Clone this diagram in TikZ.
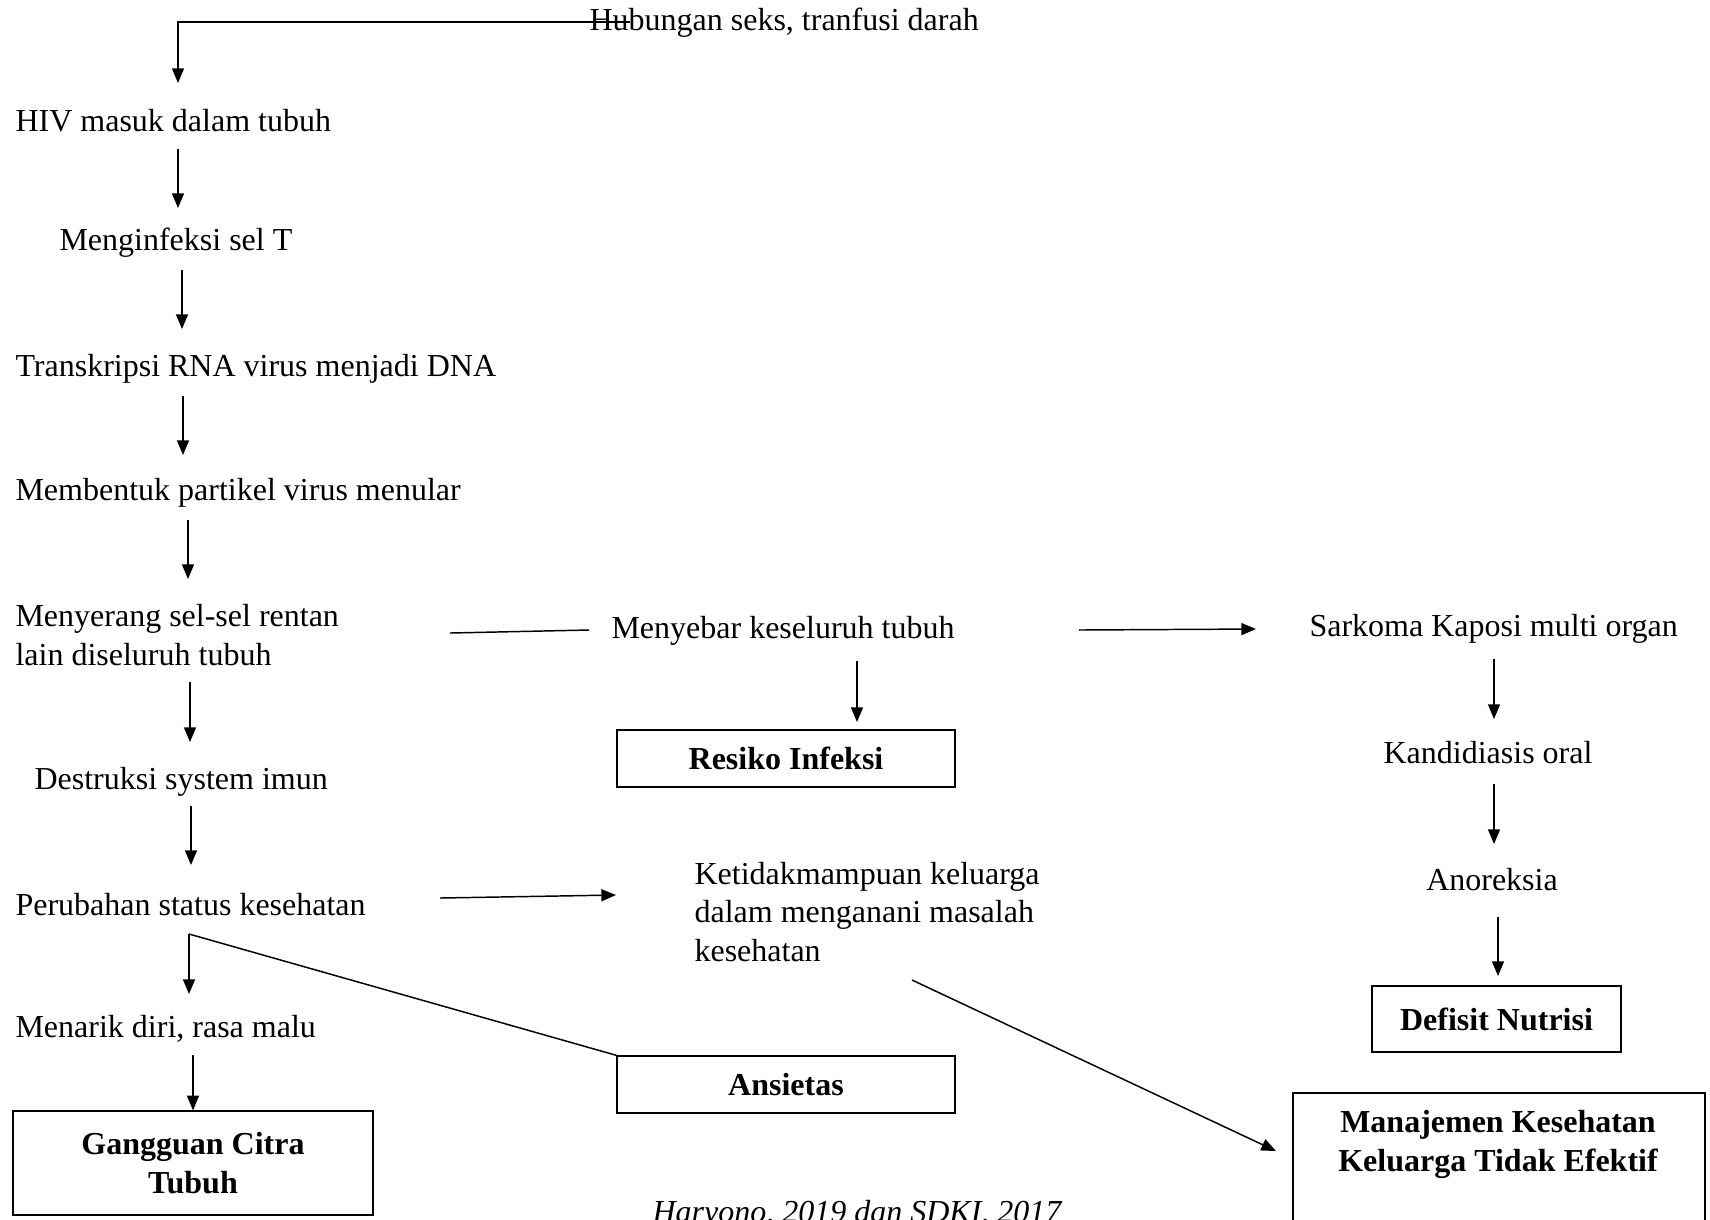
\documentclass[tikz,border=0pt]{standalone}
\usepackage{fontspec}
\setmainfont{Liberation Serif}
\usetikzlibrary{arrows.meta}
\begin{document}
\begin{tikzpicture}[x=0.375pt,y=-0.375pt,
  txt/.style={inner sep=0pt, font=\fontsize{12}{14.6}\selectfont},
  lt/.style={txt,anchor=west,align=left,yshift=-1pt},
  boxnode/.style={draw,line width=0.5pt,inner sep=0pt,font=\fontsize{12}{14.6}\selectfont\bfseries,align=center},
  arr/.style={line width=0.55pt,-{Triangle[length=5.5pt,width=4.5pt]}},
  ln/.style={line width=0.55pt}]
\useasboundingbox (0,0) rectangle (1710,1219);
\clip (0,0) rectangle (1710,1219);

% text nodes
\node[lt] (hub) at (589,20) {Hubungan seks, tranfusi darah};
\node[lt] (hiv) at (15,118) {HIV masuk dalam tubuh};
\node[lt] (inf) at (59,240) {Menginfeksi sel T};
\node[lt] (trs) at (15,366) {Transkripsi RNA virus menjadi DNA};
\node[lt] (mbt) at (15,490) {Membentuk partikel virus menular};
\node[lt] (mny) at (15,632) {Menyerang sel-sel rentan\\lain diseluruh tubuh};
\node[lt] (des) at (34,779) {Destruksi system imun};
\node[lt] (per) at (15,902) {Perubahan status kesehatan};
\node[lt] (mnr) at (15,1026) {Menarik diri, rasa malu};
\node[boxnode,minimum width=135pt,minimum height=39pt] (gct) at (193,1163) {Gangguan Citra\\Tubuh};

\node[lt] (myb) at (611,628) {Menyebar keseluruh tubuh};
\node[lt] (sar) at (1309,626) {Sarkoma Kaposi multi organ};
\node[boxnode,minimum width=126.75pt,minimum height=21.4pt] (res) at (786,758.5) {Resiko Infeksi};
\node[lt,yshift=1pt] (ket) at (694,912) {Ketidakmampuan keluarga\\dalam menganani masalah\\kesehatan};
\node[boxnode,minimum width=126.75pt,minimum height=21.4pt] (ans) at (786,1084.5) {Ansietas};

\node[txt] (kan) at (1488,753) {Kandidiasis oral};
\node[txt] (ano) at (1492,880) {Anoreksia};
\node[boxnode,minimum width=93.4pt,minimum height=24.75pt] (def) at (1496.5,1019) {Defisit Nutrisi};
\node[draw,line width=0.5pt,inner sep=0pt,minimum width=154.5pt,minimum height=63.75pt] (manbox) at (1499,1178) {};
\node[txt,font=\fontsize{12}{14.6}\selectfont\bfseries,align=center] (man) at (1498,1144) {Manajemen Kesehatan\\Keluarga Tidak Efektif};

\node[txt,anchor=base west,font=\fontsize{12}{14.6}\selectfont\itshape] (cite) at (652,1222) {Haryono, 2019 dan SDKI, 2017};

% connector points
\coordinate (t1) at (630,22);
\coordinate (t2) at (178,22);
\coordinate (t3) at (178,83);
\draw[arr] (t1) -- (t2) -- (t3);

\coordinate (a1s) at (178,149); \coordinate (a1e) at (178,208);
\coordinate (a2s) at (182,270); \coordinate (a2e) at (182,329);
\coordinate (a3s) at (183,396); \coordinate (a3e) at (183,455);
\coordinate (a4s) at (188,520); \coordinate (a4e) at (188,579);
\coordinate (a5s) at (190,682); \coordinate (a5e) at (190,742);
\coordinate (a6s) at (191,806); \coordinate (a6e) at (191,865);
\coordinate (j) at (189,934); \coordinate (a7e) at (191,994);
\coordinate (a8s) at (193,1055);
\draw[arr] (a1s) -- (a1e);
\draw[arr] (a2s) -- (a2e);
\draw[arr] (a3s) -- (a3e);
\draw[arr] (a4s) -- (a4e);
\draw[arr] (a5s) -- (a5e);
\draw[arr] (a6s) -- (a6e);
\draw[arr] (j) -- (j |- a7e);
\draw[ln] (j) -- (ans.north west);
\draw[arr] (a8s) -- (gct.north -| a8s);

\coordinate (m1) at (450,633); \coordinate (m2) at (589,630);
\draw[ln] (m1) -- (m2);
\coordinate (s1) at (1079,630); \coordinate (s2) at (1256,629);
\draw[arr] (s1) -- (s2);
\coordinate (r1) at (857,661); \coordinate (r2) at (857,722);
\draw[arr] (r1) -- (r2);
\coordinate (p1) at (440,898); \coordinate (p2) at (616,895);
\draw[arr] (p1) -- (p2);
\coordinate (k1) at (912,980); \coordinate (k2) at (1276,1151);
\draw[arr] (k1) -- (k2);

\coordinate (b1) at (1494,659); \coordinate (b2) at (1494,719);
\coordinate (b3) at (1494,784); \coordinate (b4) at (1494,844);
\coordinate (b5) at (1498,917); \coordinate (b6) at (1498,976);
\draw[arr] (b1) -- (b2);
\draw[arr] (b3) -- (b4);
\draw[arr] (b5) -- (b6);
\end{tikzpicture}
\end{document}
